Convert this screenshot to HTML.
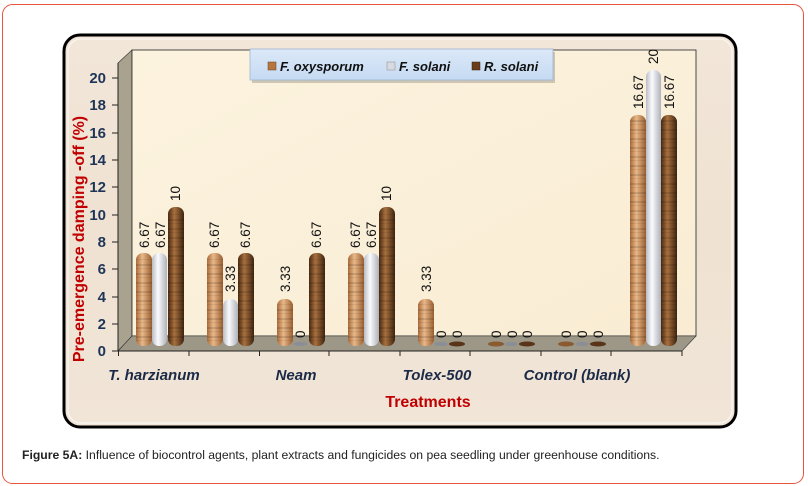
<!DOCTYPE html>
<html><head><meta charset="utf-8"><style>
html,body{margin:0;padding:0;background:#fff;}
svg{display:block;}
</style></head><body>
<svg width="808" height="486" viewBox="0 0 808 486" xmlns="http://www.w3.org/2000/svg">
<defs>
<linearGradient id="bgw" x1="0" y1="0" x2="0" y2="1">
<stop offset="0" stop-color="#f2e6d9"/><stop offset="0.5" stop-color="#efe2d2"/><stop offset="1" stop-color="#f1e5d8"/>
</linearGradient>
<linearGradient id="wall" x1="0" y1="0" x2="1" y2="1">
<stop offset="0" stop-color="#fcf3df"/><stop offset="1" stop-color="#f9ecd3"/>
</linearGradient>
<linearGradient id="c1" x1="0" x2="1">
<stop offset="0" stop-color="#a86a3a"/><stop offset="0.4" stop-color="#e8b889"/><stop offset="1" stop-color="#9a5e30"/>
</linearGradient>
<linearGradient id="c2" x1="0" x2="1">
<stop offset="0" stop-color="#b8bcc4"/><stop offset="0.4" stop-color="#fbfbfd"/><stop offset="1" stop-color="#aeb2ba"/>
</linearGradient>
<linearGradient id="c3" x1="0" x2="1">
<stop offset="0" stop-color="#4a2a12"/><stop offset="0.4" stop-color="#a8703e"/><stop offset="1" stop-color="#3e2410"/>
</linearGradient>
<pattern id="stripe" width="10" height="9" patternUnits="userSpaceOnUse">
<rect width="10" height="2" y="3" fill="#000" opacity="0.12"/><rect width="10" height="1" y="7" fill="#000" opacity="0.07"/>
</pattern>
<linearGradient id="leg" x1="0" y1="0" x2="0" y2="1">
<stop offset="0" stop-color="#dce9f8"/><stop offset="1" stop-color="#c5daf2"/>
</linearGradient>
</defs>
<rect x="2.5" y="4.5" width="801" height="479" rx="10" fill="#fff" stroke="#e8543f" stroke-width="1"/>
<rect x="64" y="35" width="672" height="392" rx="16" fill="url(#bgw)" stroke="#000" stroke-width="3"/>
<rect x="68" y="39" width="664" height="384" rx="13" fill="none" stroke="#fff" stroke-width="1" opacity="0.8"/>
<polygon points="118,63 132,50 132,336 118,351" fill="#a8a28e" stroke="#333" stroke-width="0.6"/>
<rect x="132" y="50" width="564" height="286" fill="url(#wall)" stroke="#222" stroke-width="0.8"/>
<polygon points="118,351 132,336 696,336 682,351" fill="#9c9787" stroke="#333" stroke-width="0.6"/>
<line x1="118" y1="63" x2="118" y2="351" stroke="#222"/>
<line x1="118" y1="351" x2="682" y2="351" stroke="#222"/>
<g stroke="#222">
<line x1="112" y1="351" x2="118" y2="351"/><line x1="112" y1="324" x2="118" y2="324"/><line x1="112" y1="297" x2="118" y2="297"/><line x1="112" y1="269" x2="118" y2="269"/><line x1="112" y1="242" x2="118" y2="242"/><line x1="112" y1="215" x2="118" y2="215"/><line x1="112" y1="187" x2="118" y2="187"/><line x1="112" y1="160" x2="118" y2="160"/><line x1="112" y1="133" x2="118" y2="133"/><line x1="112" y1="105" x2="118" y2="105"/><line x1="112" y1="78" x2="118" y2="78"/>
<line x1="118.5" y1="351" x2="118.5" y2="356"/><line x1="189" y1="351" x2="189" y2="356"/><line x1="259.5" y1="351" x2="259.5" y2="356"/><line x1="329" y1="351" x2="329" y2="356"/><line x1="400" y1="351" x2="400" y2="356"/><line x1="470" y1="351" x2="470" y2="356"/><line x1="541" y1="351" x2="541" y2="356"/><line x1="611" y1="351" x2="611" y2="356"/><line x1="682" y1="351" x2="682" y2="356"/>
</g>
<g font-family="Liberation Sans, sans-serif" font-weight="bold" font-size="15" fill="#1f3558" text-anchor="end">
<text x="106" y="356">0</text><text x="106" y="329">2</text><text x="106" y="302">4</text><text x="106" y="274">6</text><text x="106" y="247">8</text><text x="106" y="220">10</text><text x="106" y="192">12</text><text x="106" y="165">14</text><text x="106" y="138">16</text><text x="106" y="110">18</text><text x="106" y="83">20</text>
</g>
<g stroke="none">
<rect x="136" y="253" width="16" height="93" rx="7" fill="url(#c1)"/>
<rect x="152" y="253" width="15" height="93" rx="7" fill="url(#c2)"/>
<rect x="168" y="207" width="16" height="139" rx="7" fill="url(#c3)"/>
<rect x="207" y="253" width="16" height="93" rx="7" fill="url(#c1)"/>
<rect x="223" y="299" width="15" height="47" rx="7" fill="url(#c2)"/>
<rect x="238" y="253" width="16" height="93" rx="7" fill="url(#c3)"/>
<rect x="277" y="299" width="16" height="47" rx="7" fill="url(#c1)"/>
<ellipse cx="300" cy="344" rx="7" ry="2" fill="#8a8e96"/>
<rect x="309" y="253" width="16" height="93" rx="7" fill="url(#c3)"/>
<rect x="348" y="253" width="16" height="93" rx="7" fill="url(#c1)"/>
<rect x="364" y="253" width="15" height="93" rx="7" fill="url(#c2)"/>
<rect x="379" y="207" width="16" height="139" rx="7" fill="url(#c3)"/>
<rect x="418" y="299" width="16" height="47" rx="7" fill="url(#c1)"/>
<ellipse cx="441" cy="344" rx="7" ry="2" fill="#8a8e96"/>
<ellipse cx="457" cy="344" rx="8" ry="2.5" fill="#5a3418"/>
<ellipse cx="496" cy="344" rx="8" ry="2.5" fill="#8a5a30"/>
<ellipse cx="511" cy="344" rx="7" ry="2" fill="#8a8e96"/>
<ellipse cx="527" cy="344" rx="8" ry="2.5" fill="#5a3418"/>
<ellipse cx="566" cy="344" rx="8" ry="2.5" fill="#8a5a30"/>
<ellipse cx="582" cy="344" rx="7" ry="2" fill="#8a8e96"/>
<ellipse cx="598" cy="344" rx="8" ry="2.5" fill="#5a3418"/>
<rect x="630" y="115" width="16" height="231" rx="7" fill="url(#c1)"/>
<rect x="646" y="70" width="15" height="276" rx="7" fill="url(#c2)"/>
<rect x="661" y="115" width="16" height="231" rx="7" fill="url(#c3)"/>
</g>
<g fill="url(#stripe)">
<rect x="136" y="258" width="16" height="84"/><rect x="168" y="212" width="16" height="130"/>
<rect x="207" y="258" width="16" height="84"/><rect x="238" y="258" width="16" height="84"/>
<rect x="277" y="304" width="16" height="38"/><rect x="309" y="258" width="16" height="84"/>
<rect x="348" y="258" width="16" height="84"/><rect x="379" y="212" width="16" height="130"/>
<rect x="418" y="304" width="16" height="38"/>
<rect x="630" y="120" width="16" height="222"/><rect x="661" y="120" width="16" height="222"/>
</g>
<g font-family="Liberation Sans, sans-serif" font-size="13.5" fill="#111">
<text transform="translate(149,248) rotate(-90)">6.67</text>
<text transform="translate(165,248) rotate(-90)">6.67</text>
<text transform="translate(180,201) rotate(-90)">10</text>
<text transform="translate(219,248) rotate(-90)">6.67</text>
<text transform="translate(235,292) rotate(-90)">3.33</text>
<text transform="translate(250,248) rotate(-90)">6.67</text>
<text transform="translate(290,292) rotate(-90)">3.33</text>
<text transform="translate(305,338) rotate(-90)">0</text>
<text transform="translate(321,248) rotate(-90)">6.67</text>
<text transform="translate(360,248) rotate(-90)">6.67</text>
<text transform="translate(376,248) rotate(-90)">6.67</text>
<text transform="translate(391,201) rotate(-90)">10</text>
<text transform="translate(431,292) rotate(-90)">3.33</text>
<text transform="translate(446,338) rotate(-90)">0</text>
<text transform="translate(462,338) rotate(-90)">0</text>
<text transform="translate(501,338) rotate(-90)">0</text>
<text transform="translate(517,338) rotate(-90)">0</text>
<text transform="translate(532,338) rotate(-90)">0</text>
<text transform="translate(571,338) rotate(-90)">0</text>
<text transform="translate(587,338) rotate(-90)">0</text>
<text transform="translate(603,338) rotate(-90)">0</text>
<text transform="translate(643,109) rotate(-90)">16.67</text>
<text transform="translate(658,64) rotate(-90)">20</text>
<text transform="translate(674,109) rotate(-90)">16.67</text>
</g>
<rect x="252" y="52" width="303" height="31" fill="#000" opacity="0.18"/>
<rect x="250" y="49" width="303" height="31" fill="url(#leg)" stroke="#9fb6d2" stroke-width="0.8"/>
<g font-family="Liberation Sans, sans-serif" font-weight="bold" font-style="italic" font-size="13" fill="#111">
<rect x="268" y="62" width="8" height="8" fill="#b5773f" stroke="#6b3e1a" stroke-width="0.5"/>
<text x="280" y="71">F. oxysporum</text>
<rect x="387" y="62" width="8" height="8" fill="#d8dadf" stroke="#888" stroke-width="0.5"/>
<text x="399" y="71">F. solani</text>
<rect x="472" y="62" width="8" height="8" fill="#6a3c1c" stroke="#3a1f0c" stroke-width="0.5"/>
<text x="484" y="71">R. solani</text>
</g>
<g font-family="Liberation Sans, sans-serif" font-weight="bold" font-style="italic" font-size="15" fill="#1b2a47" text-anchor="middle">
<text x="154" y="380">T. harzianum</text>
<text x="296" y="380">Neam</text>
<text x="437" y="380">Tolex-500</text>
<text x="577" y="380">Control (blank)</text>
</g>
<text x="428" y="407" text-anchor="middle" font-family="Liberation Sans, sans-serif" font-weight="bold" font-size="16" fill="#c00000">Treatments</text>
<text transform="translate(84,239) rotate(-90)" text-anchor="middle" font-family="Liberation Sans, sans-serif" font-weight="bold" font-size="16" fill="#c00000">Pre-emergence damping -off (%)</text>
<text x="22" y="459" font-family="Liberation Sans, sans-serif" font-size="12.2" fill="#222"><tspan font-weight="bold">Figure 5A:</tspan> Influence of biocontrol agents, plant extracts and fungicides on pea seedling under greenhouse conditions.</text>
</svg>
</body></html>
